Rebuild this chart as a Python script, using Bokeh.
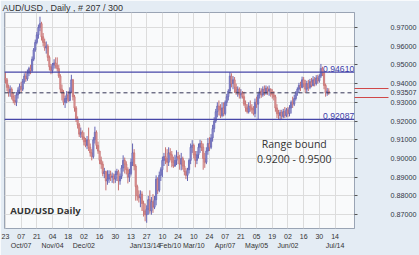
from bokeh.plotting import figure
from bokeh.models import Range1d, FixedTicker, LinearAxis, Span, Label, PrintfTickFormatter, ColumnDataSource
from bokeh.embed import file_html
from bokeh.resources import INLINE

title_text = "AUD/USD , Daily , # 207 / 300"

first_open = 0.9430
closes = [
    0.9420, 0.9380, 0.9350, 0.9370, 0.9330, 0.9310, 0.9300, 0.9340, 0.9365, 0.9385,
    0.9370, 0.9410, 0.9440, 0.9425, 0.9455, 0.9480, 0.9470, 0.9530, 0.9580, 0.9620,
    0.9660, 0.9700, 0.9720, 0.9650, 0.9620, 0.9590, 0.9600, 0.9540, 0.9490, 0.9470,
    0.9500, 0.9510, 0.9495, 0.9480, 0.9440, 0.9370, 0.9350, 0.9300, 0.9320, 0.9340,
    0.9310, 0.9360, 0.9420, 0.9330, 0.9270, 0.9210, 0.9180, 0.9130, 0.9140, 0.9115,
    0.9090, 0.9070, 0.9100, 0.9060, 0.9030, 0.9010, 0.9100, 0.9140, 0.9070, 0.9040,
    0.8990, 0.8970, 0.8920, 0.8930, 0.8880, 0.8890, 0.8915, 0.8900, 0.8905, 0.8890,
    0.8915, 0.8930, 0.8880, 0.8905, 0.8950, 0.8990, 0.8970, 0.8940, 0.8900, 0.8920,
    0.8980, 0.9030, 0.8960, 0.8850, 0.8800, 0.8790, 0.8810, 0.8760, 0.8720, 0.8700,
    0.8730, 0.8780, 0.8720, 0.8770, 0.8740, 0.8780, 0.8890, 0.8830, 0.8910, 0.8940,
    0.8990, 0.9010, 0.9000, 0.8980, 0.9030, 0.9020, 0.8980, 0.8960, 0.8990, 0.9010,
    0.9000, 0.8970, 0.9000, 0.8960, 0.8930, 0.8910, 0.8940, 0.8990, 0.9060, 0.9070,
    0.9020, 0.8990, 0.9020, 0.9060, 0.9080, 0.9060, 0.9000, 0.8980, 0.9040, 0.9080,
    0.9060, 0.9110, 0.9160, 0.9200, 0.9250, 0.9280, 0.9260, 0.9230, 0.9270, 0.9240,
    0.9300, 0.9330, 0.9360, 0.9440, 0.9400, 0.9420, 0.9380, 0.9355, 0.9370, 0.9340,
    0.9350, 0.9330, 0.9290, 0.9270, 0.9250, 0.9280, 0.9270, 0.9260, 0.9240, 0.9300,
    0.9290, 0.9340, 0.9360, 0.9340, 0.9370, 0.9350, 0.9375, 0.9360, 0.9370, 0.9350,
    0.9340, 0.9330, 0.9270, 0.9240, 0.9230, 0.9245, 0.9225, 0.9250, 0.9230, 0.9260,
    0.9240, 0.9270, 0.9300, 0.9290, 0.9320, 0.9350, 0.9370, 0.9390, 0.9380, 0.9420,
    0.9400, 0.9370, 0.9400, 0.9380, 0.9410, 0.9390, 0.9420, 0.9400, 0.9430, 0.9415,
    0.9440, 0.9480, 0.9460, 0.9390, 0.9350, 0.9360, 0.93507,
]
highs = [
    0.9460, 0.9430, 0.9395, 0.9390, 0.9380, 0.9350, 0.9340, 0.9355, 0.9380, 0.9400,
    0.9410, 0.9425, 0.9455, 0.9465, 0.9475, 0.9490, 0.9500, 0.9545, 0.9590, 0.9635,
    0.9675, 0.9715, 0.9757, 0.9730, 0.9670, 0.9640, 0.9625, 0.9610, 0.9550, 0.9505,
    0.9510, 0.9530, 0.9540, 0.9540, 0.9500, 0.9450, 0.9395, 0.9365, 0.9335, 0.9360,
    0.9360, 0.9380, 0.9447, 0.9425, 0.9340, 0.9280, 0.9225, 0.9190, 0.9165, 0.9150,
    0.9140, 0.9110, 0.9120, 0.9165, 0.9080, 0.9050, 0.9115, 0.9170, 0.9150, 0.9090,
    0.9040, 0.9010, 0.8985, 0.8950, 0.8935, 0.8937, 0.8937, 0.8935, 0.8925, 0.8920,
    0.8935, 0.8945, 0.8940, 0.8920, 0.8965, 0.9017, 0.9005, 0.8985, 0.8953, 0.8945,
    0.9000, 0.9080, 0.9050, 0.8970, 0.8860, 0.8830, 0.8830, 0.8825, 0.8775, 0.8760,
    0.8750, 0.8800, 0.8830, 0.8795, 0.8810, 0.8800, 0.8910, 0.8900, 0.8930, 0.8953,
    0.9010, 0.9030, 0.9060, 0.9050, 0.9060, 0.9055, 0.9040, 0.9010, 0.9020, 0.9044,
    0.9035, 0.9020, 0.9030, 0.9010, 0.8990, 0.8950, 0.8950, 0.9000, 0.9080, 0.9098,
    0.9080, 0.9040, 0.9040, 0.9080, 0.9100, 0.9095, 0.9080, 0.9030, 0.9060, 0.9110,
    0.9114, 0.9130, 0.9180, 0.9220, 0.9265, 0.9300, 0.9310, 0.9290, 0.9300, 0.9300,
    0.9310, 0.9345, 0.9370, 0.9461, 0.9455, 0.9440, 0.9435, 0.9400, 0.9385, 0.9380,
    0.9370, 0.9360, 0.9356, 0.9310, 0.9290, 0.9300, 0.9310, 0.9290, 0.9280, 0.9320,
    0.9330, 0.9350, 0.9377, 0.9375, 0.9385, 0.9390, 0.9390, 0.9385, 0.9390, 0.9375,
    0.9370, 0.9360, 0.9340, 0.9290, 0.9260, 0.9260, 0.9260, 0.9265, 0.9275, 0.9270,
    0.9275, 0.9285, 0.9310, 0.9330, 0.9340, 0.9360, 0.9380, 0.9404, 0.9410, 0.9437,
    0.9435, 0.9420, 0.9415, 0.9420, 0.9425, 0.9430, 0.9440, 0.9435, 0.9445, 0.9447,
    0.9450, 0.9505, 0.9490, 0.9470, 0.9400, 0.9377, 0.9375,
]
lows = [
    0.9400, 0.9360, 0.9330, 0.9330, 0.9315, 0.9295, 0.9285, 0.9280, 0.9320, 0.9345,
    0.9355, 0.9360, 0.9400, 0.9410, 0.9415, 0.9440, 0.9450, 0.9460, 0.9520, 0.9570,
    0.9610, 0.9640, 0.9680, 0.9630, 0.9600, 0.9575, 0.9560, 0.9520, 0.9470, 0.9450,
    0.9455, 0.9480, 0.9480, 0.9465, 0.9430, 0.9350, 0.9310, 0.9285, 0.9270, 0.9295,
    0.9300, 0.9305, 0.9350, 0.9310, 0.9250, 0.9195, 0.9160, 0.9115, 0.9110, 0.9100,
    0.9070, 0.9060, 0.9050, 0.9040, 0.9010, 0.8990, 0.9000, 0.9080, 0.9050, 0.9025,
    0.8970, 0.8945, 0.8905, 0.8895, 0.8830, 0.8860, 0.8870, 0.8880, 0.8870, 0.8867,
    0.8870, 0.8880, 0.8830, 0.8860, 0.8890, 0.8930, 0.8920, 0.8915, 0.8867, 0.8875,
    0.8910, 0.8960, 0.8937, 0.8775, 0.8775, 0.8765, 0.8740, 0.8720, 0.8690, 0.8665,
    0.8657, 0.8700, 0.8705, 0.8700, 0.8710, 0.8730, 0.8750, 0.8810, 0.8820, 0.8880,
    0.8900, 0.8960, 0.8970, 0.8927, 0.8960, 0.8990, 0.8953, 0.8950, 0.8955, 0.8965,
    0.8970, 0.8940, 0.8937, 0.8940, 0.8910, 0.8890, 0.8880, 0.8920, 0.8970, 0.9030,
    0.9000, 0.8953, 0.8970, 0.9000, 0.9030, 0.9040, 0.8940, 0.8950, 0.8970, 0.9020,
    0.9040, 0.9050, 0.9090, 0.9140, 0.9190, 0.9220, 0.9230, 0.9216, 0.9220, 0.9225,
    0.9230, 0.9280, 0.9310, 0.9350, 0.9380, 0.9370, 0.9350, 0.9340, 0.9330, 0.9320,
    0.9320, 0.9320, 0.9280, 0.9250, 0.9240, 0.9240, 0.9250, 0.9240, 0.9230, 0.9220,
    0.9270, 0.9210, 0.9320, 0.9324, 0.9330, 0.9335, 0.9340, 0.9340, 0.9335, 0.9330,
    0.9320, 0.9310, 0.9250, 0.9216, 0.9210, 0.9205, 0.9210, 0.9215, 0.9216, 0.9220,
    0.9220, 0.9225, 0.9240, 0.9270, 0.9280, 0.9310, 0.9335, 0.9350, 0.9360, 0.9375,
    0.9380, 0.9350, 0.9355, 0.9360, 0.9370, 0.9380, 0.9385, 0.9385, 0.9390, 0.9400,
    0.9405, 0.9430, 0.9440, 0.9370, 0.9330, 0.9335, 0.9340,
]

resistance = 0.94610
support = 0.92087
current = 0.93507

day_ticks = [0, 10, 20, 30, 40, 50, 60, 70, 80, 90, 100, 110, 120, 130, 140, 150, 160, 170, 180, 190, 200, 210]
day_labels = ["23", "07", "21", "04", "18", "02", "16", "30", "13", "27", "10", "24",
              "10", "24", "07", "21", "05", "19", "02", "16", "30", "14"]
month_ticks = [10, 30, 50, 89, 105, 120, 140, 160, 180, 210]
month_labels = ["Oct/07", "Nov/04", "Dec/02", "Jan/13/14", "Feb/10", "Mar/10",
                "Apr/07", "May/05", "Jun/02", "Jul/14"]
price_ticks = [0.87, 0.88, 0.89, 0.90, 0.91, 0.92, 0.93, 0.94, 0.95, 0.96, 0.97]

opens = [first_open] + closes[:-1]
n = len(closes)
xs = list(range(n))
up = [c >= o for o, c in zip(opens, closes)]
src = ColumnDataSource(dict(
    x=xs, high=highs, low=lows,
    top=[max(o, c) for o, c in zip(opens, closes)],
    bottom=[min(o, c) for o, c in zip(opens, closes)],
    line=["#6464B4" if u else "#C87272" for u in up],
    fill=["#A4A4DC" if u else "#E6ACAC" for u in up],
))

FONT = "Liberation Sans"

p = figure(width=419, height=255, x_range=Range1d(-0.6, 222.4), y_range=Range1d(0.86263, 0.97796),
           output_backend="svg", toolbar_location=None, y_axis_location="right",
           min_border_left=4, min_border_right=36, min_border_top=0, min_border_bottom=27)
p.background_fill_color = "#F9FAFB"
p.border_fill_color = "#E4ECF4"
p.outline_line_color = "#9AA4B4"

p.title.text = title_text
p.title.text_font = FONT
p.title.text_font_size = "9px"
p.title.text_font_style = "normal"
p.title.text_color = "#333333"
p.title.text_line_height = 1.0
p.title.standoff = 0
p.title.offset = -2

p.xgrid.ticker = FixedTicker(ticks=day_ticks)
p.ygrid.ticker = FixedTicker(ticks=price_ticks)
p.xgrid.grid_line_color = "#DCDCDC"
p.ygrid.grid_line_color = "#DCDCDC"

xa = p.xaxis[0]
xa.ticker = FixedTicker(ticks=day_ticks)
xa.major_label_overrides = {t: l for t, l in zip(day_ticks, day_labels)}
xa.axis_line_color = None
xa.major_tick_line_color = None
xa.minor_tick_line_color = None
xa.major_tick_out = 0
xa.major_tick_in = 0
xa.minor_tick_out = 0
xa.major_label_standoff = 5
xa.major_label_text_font = FONT
xa.major_label_text_font_size = "7px"
xa.major_label_text_color = "#333333"

ma = LinearAxis(ticker=FixedTicker(ticks=month_ticks),
                major_label_overrides={t: l for t, l in zip(month_ticks, month_labels)})
ma.axis_line_color = None
ma.major_tick_line_color = None
ma.minor_tick_line_color = None
ma.major_tick_out = 0
ma.major_tick_in = 0
ma.minor_tick_out = 0
ma.major_label_standoff = 0
ma.major_label_text_font = FONT
ma.major_label_text_font_size = "7px"
ma.major_label_text_color = "#333333"
p.add_layout(ma, "below")

# right price axis; the current price gets its own tick and a red frame drawn by minor ticks
box_half = 0.0024
ya = p.yaxis[0]
ya.ticker = FixedTicker(ticks=price_ticks + [current],
                        minor_ticks=[current - box_half, current + box_half])
ya.formatter = PrintfTickFormatter(format="%.5f")
ya.axis_line_color = "#9AA4B4"
ya.major_tick_line_color = "#555555"
ya.major_tick_out = 3
ya.major_tick_in = 0
ya.minor_tick_line_color = "#D04848"
ya.minor_tick_out = 34
ya.minor_tick_in = 0
ya.major_label_standoff = 2
ya.major_label_text_font = FONT
ya.major_label_text_font_size = "7.2px"
ya.major_label_text_color = "#333344"

p.segment(x0="x", y0="low", x1="x", y1="high", line_color="line", line_width=1, source=src)
p.vbar(x="x", width=0.75, top="top", bottom="bottom", fill_color="fill", line_color="line",
       line_width=0.8, source=src)

p.add_layout(Span(location=resistance, dimension="width", line_color="#4646A8", line_width=1.2))
p.add_layout(Span(location=support, dimension="width", line_color="#4646A8", line_width=1.2))
p.add_layout(Span(location=current, dimension="width", line_color="#333355", line_width=1,
                  line_dash="4 3"))

p.add_layout(Label(x=222.2, y=resistance, text="%.5f" % resistance, text_align="right",
                   text_baseline="bottom", text_font=FONT, text_font_size="8.6px",
                   text_color="#3C3CA8"))
p.add_layout(Label(x=222.2, y=support, text="%.5f" % support, text_align="right",
                   text_baseline="bottom", text_font=FONT, text_font_size="8.6px",
                   text_color="#3C3CA8"))

p.add_layout(Label(x=184, y=0.9076, text="Range bound", text_align="center",
                   text_baseline="middle", text_font="Open Sans", text_font_size="10.5px",
                   text_color="#333333"))
p.add_layout(Label(x=184, y=0.8996, text="0.9200 - 0.9500", text_align="center",
                   text_baseline="middle", text_font="Open Sans", text_font_size="10.5px",
                   text_color="#333333"))
p.add_layout(Label(x=3, y=0.8722, text="AUD/USD Daily", text_align="left",
                   text_baseline="middle", text_font="Open Sans", text_font_size="9.5px",
                   text_font_style="bold", text_color="#333333"))

open("out.html", "w").write(file_html(p, INLINE))
